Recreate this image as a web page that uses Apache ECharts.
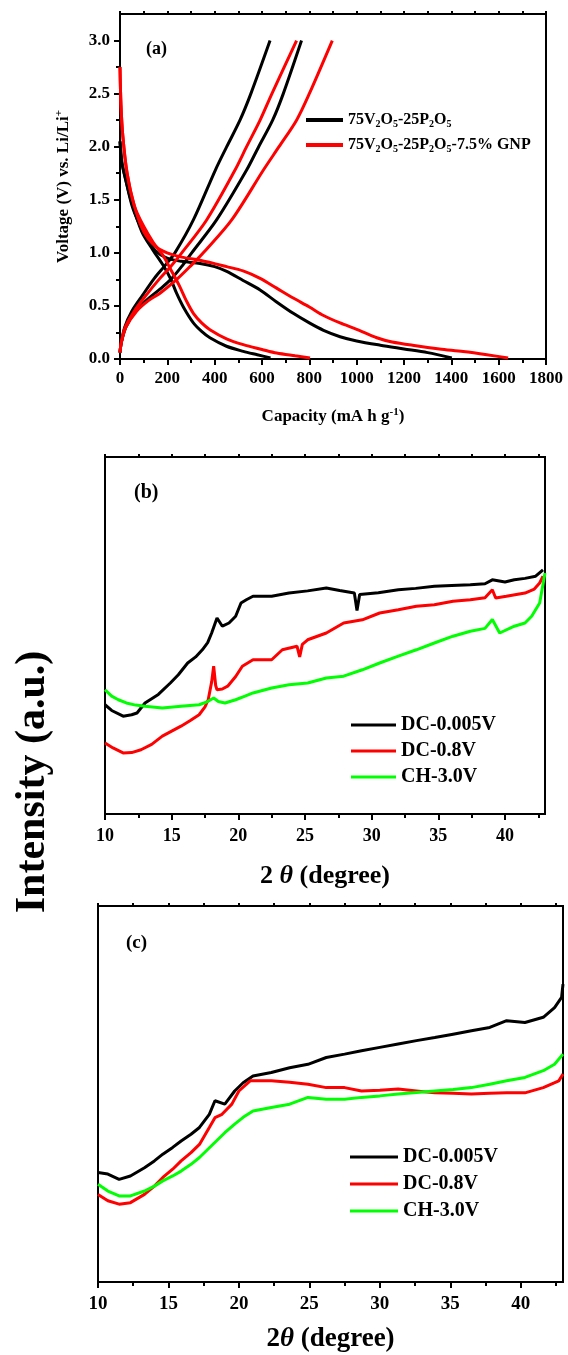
<!DOCTYPE html>
<html><head><meta charset="utf-8">
<script src="https://cdn.jsdelivr.net/npm/echarts@6/dist/echarts.min.js"></script>
<style>html,body{margin:0;padding:0;background:#fff}#c{width:568px;height:1355px}</style>
</head><body><div id="c"></div>
<script>
// ---------- tick values ----------
const capTicks = [0,200,400,600,800,1000,1200,1400,1600,1800];
const capMinorTicks = [100,300,500,700,900,1100,1300,1500,1700];
const capTopTicks = [0,100,200,300,400,500,600,700,800,900,1000,1100,1200,1300,1400,1500,1600,1700,1800];
const voltTicks = [0,0.5,1,1.5,2,2.5,3];
const voltMinorTicks = [0.25,0.75,1.25,1.75,2.25,2.75];
const thetaTicks = [10,15,20,25,30,35,40];
const thetaMinorTicks = [12.5,17.5,22.5,27.5,32.5,37.5,42.5];
const thetaTopTicks = [10,12.5,15,17.5,20,22.5,25,27.5,30,32.5,35,37.5,40,42.5];

// ---------- panel (a): [capacity, voltage] ----------
const nameA1 = '75V2O5-25P2O5';
const nameA2 = '75V2O5-25P2O5-7.5% GNP';
const aBlackDis1 = [[0,2.05],[8,1.85],[23,1.7],[50,1.45],[76,1.3],[110,1.15],[150,1.02],[199,0.95],[260,0.92],[338,0.9],[400,0.87],[451,0.825],[520,0.74],[592,0.65],[660,0.54],[732,0.43],[800,0.34],[860,0.27],[930,0.21],[1000,0.17],[1100,0.13],[1200,0.095],[1300,0.06],[1402,0.01]];
const aBlackDis2 = [[0,2.05],[8,1.85],[23,1.7],[46,1.5],[92,1.2],[138,1.03],[183,0.88],[215,0.75],[239,0.62],[270,0.48],[310,0.34],[345,0.26],[380,0.2],[450,0.12],[521,0.072],[580,0.04],[636,0.01]];
const aBlackCh1 = [[0,0.06],[5,0.15],[20,0.3],[50,0.45],[95,0.6],[145,0.76],[190,0.88],[232,1.0],[310,1.31],[403,1.78],[451,2.0],[507,2.25],[553,2.5],[634,3.0]];
const aBlackCh2 = [[0,0.06],[5,0.15],[25,0.3],[65,0.45],[120,0.57],[170,0.66],[215,0.75],[260,0.87],[303,1.0],[408,1.31],[535,1.78],[586,2.0],[645,2.25],[690,2.5],[767,3.0]];
const aRedDis1 = [[0,2.75],[4,2.4],[12,2.1],[30,1.75],[61,1.44],[100,1.2],[150,1.06],[199,1.0],[260,0.96],[338,0.93],[451,0.87],[520,0.83],[592,0.76],[660,0.67],[732,0.574],[800,0.49],[860,0.41],[930,0.34],[1000,0.28],[1085,0.2],[1150,0.16],[1250,0.125],[1350,0.095],[1450,0.07],[1550,0.04],[1640,0.01]];
const aRedDis2 = [[0,2.75],[4,2.4],[12,2.1],[30,1.75],[61,1.44],[100,1.25],[140,1.1],[183,0.97],[220,0.82],[253,0.68],[280,0.55],[310,0.43],[345,0.34],[380,0.276],[450,0.19],[521,0.135],[600,0.09],[662,0.056],[740,0.03],[803,0.01]];
const aRedCh1 = [[0,0.06],[5,0.15],[22,0.3],[60,0.45],[110,0.6],[165,0.75],[210,0.86],[261,1.0],[366,1.31],[486,1.78],[535,2.0],[592,2.25],[642,2.5],[746,3.0]];
const aRedCh2 = [[0,0.06],[5,0.15],[25,0.3],[70,0.45],[120,0.55],[169,0.62],[240,0.75],[300,0.88],[352,1.0],[472,1.31],[606,1.78],[672,2.0],[746,2.25],[800,2.5],[897,3.0]];

// ---------- panel (b): [2theta, intensity a.u.] ----------
const bBlack = [[10,30.6],[10.5,29],[11.36,27.4],[12,27.8],[12.4,28.3],[13,31.1],[14,33.5],[14.9,36.7],[15.5,39],[16.2,42.3],[16.8,44],[17.3,46],[17.7,48],[18.0,50.7],[18.4,54.9],[18.8,52.6],[19.3,53.5],[19.8,55.4],[20.2,59.1],[20.6,60],[21.1,61],[22.5,61],[23.8,61.9],[25.2,62.5],[26.6,63.3],[27.6,62.6],[28.7,61.9],[28.9,57],[29.1,61.5],[30.5,62],[32,62.8],[33.3,63.2],[34.7,63.8],[36,64],[37.4,64.2],[38.5,64.5],[39.05,65.6],[40,65],[40.7,65.6],[41.5,66],[42.3,66.6],[42.85,68.4]];
const bRed = [[10,19.9],[10.6,18.5],[11.36,17.1],[12,17.2],[12.7,18],[13.5,19.5],[14.3,21.8],[15,23.2],[15.7,24.6],[16.4,26.2],[17.06,27.8],[17.5,30],[17.74,32],[18.0,37],[18.15,41.4],[18.3,36],[18.4,34.8],[18.8,35],[19.2,35.8],[19.8,38.5],[20.3,41.4],[21.1,43.2],[22.5,43.2],[23.3,46],[24.4,47],[24.6,44],[24.8,47.5],[25.2,48.8],[26.6,50.7],[27.9,53.5],[29.3,54.4],[30.6,56.3],[32,57.2],[33.35,58.2],[34.7,58.6],[36.1,59.6],[37.4,60],[38.5,60.6],[39.05,62.8],[39.3,60.5],[40.1,61],[41.5,61.9],[42.2,63],[42.6,64.7],[42.85,66.6]];
const bGreen = [[10,34.8],[10.5,33],[11,32],[11.6,31.1],[12.3,30.5],[13,30.2],[14.3,29.7],[15.7,30.2],[17.06,30.6],[17.7,31.5],[18.15,32.5],[18.5,31.5],[19,31.1],[19.8,32],[20.5,33],[21.1,33.9],[22.5,35.3],[23.8,36.2],[25.2,36.7],[26.6,38.1],[27.9,38.6],[29.3,40.4],[30.6,42.3],[32,44.2],[33.35,46],[34.7,47.9],[36.1,49.8],[37.4,51.2],[38.5,52],[39.05,54.5],[39.6,50.7],[40.7,52.6],[41.5,53.5],[42,55.4],[42.6,59.1],[43,67.5]];

// ---------- panel (c): [2theta, intensity a.u.] ----------
const cBlack = [[10,29.1],[10.7,28.7],[11.5,27.3],[12.3,28.2],[13.3,30.4],[14,32.2],[14.6,34],[15.3,35.8],[15.9,37.5],[16.6,39.3],[17.2,41.1],[17.9,44.6],[18.3,48.2],[19,47.3],[19.7,50.8],[20.3,53],[21,54.8],[22.3,55.7],[23.6,57],[24.9,57.9],[26.2,59.7],[27.5,60.6],[28.7,61.5],[30,62.4],[31.3,63.3],[32.6,64.2],[33.9,65],[35.2,65.9],[36.5,66.8],[37.8,67.7],[39,69.5],[40.3,69],[41.6,70.4],[42.4,73],[42.9,75.7],[43,79.2]];
const cRed = [[10,23.3],[10.7,21.6],[11.5,20.7],[12.3,21.1],[13.3,23.3],[14,25.5],[14.6,27.8],[15.3,30],[15.9,32.2],[16.6,34.4],[17.2,36.6],[17.9,41.1],[18.3,43.7],[18.8,44.6],[19.5,47.3],[20,50.8],[20.8,53.5],[22.3,53.5],[23.6,53.1],[24.9,52.6],[26.2,51.7],[27.5,51.7],[28.7,50.8],[30,51],[31.3,51.3],[32.6,50.8],[33.9,50.3],[35.2,50.2],[36.5,50],[37.8,50.2],[39,50.3],[40.3,50.3],[41.6,51.7],[42.7,53.5],[43,55.3]];
const cGreen = [[10,26],[10.7,24.2],[11.5,22.9],[12.3,22.9],[13.3,24.2],[14,25.5],[14.6,26.9],[15.3,28.2],[15.9,29.5],[16.6,31.3],[17.2,33.1],[17.8,35.3],[18.4,37.5],[19,39.7],[19.7,42],[20.3,43.8],[21,45.5],[22.3,46.4],[23.6,47.3],[24.9,49.1],[26.2,48.6],[27.5,48.6],[28.7,49.1],[30,49.5],[31.3,50],[32.6,50.4],[33.9,50.8],[35.2,51.2],[36.5,51.7],[37.8,52.6],[39,53.5],[40.3,54.4],[41.6,56.2],[42.4,57.9],[43,60.6]];

const seriesNamesBC = ['DC-0.005V','DC-0.8V','CH-3.0V'];

// ---------- styling ----------
const FONT = '"Liberation Serif","Times New Roman",serif';
const BLACK = '#000000', RED = '#ff0000', GREEN = '#00ff00';

function richSet(size){
  return {
    b: {fontFamily: FONT, fontWeight: 'bold', fontSize: size, color: '#000', lineHeight: size + 4, verticalAlign: 'middle'},
    th: {fontFamily: FONT, fontWeight: 'bold', fontStyle: 'italic', fontSize: size, color: '#000', lineHeight: size + 4, verticalAlign: 'middle'},
    sub: {fontFamily: FONT, fontWeight: 'bold', fontSize: Math.round(size*0.62), color: '#000', lineHeight: Math.round(size*0.62), padding: [Math.round(size*0.5),0,0,0], verticalAlign: 'middle'},
    sup: {fontFamily: FONT, fontWeight: 'bold', fontSize: Math.round(size*0.62), color: '#000', lineHeight: Math.round(size*0.62), padding: [0,0,Math.round(size*0.5),0], verticalAlign: 'middle'}
  };
}

function mainX(grid, min, max, ticks, labelSize, margin, name, nameSize, nameGap, fmt){
  return {
    type: 'value', gridIndex: grid, position: 'bottom', min: min, max: max,
    axisLine: {show: true, lineStyle: {color: '#000', width: 2}},
    axisTick: {show: true, inside: false, length: 6, customValues: ticks, lineStyle: {color: '#000', width: 2}},
    axisLabel: {show: true, customValues: ticks, margin: margin, fontFamily: FONT, fontWeight: 'bold', fontSize: labelSize, color: '#000', formatter: fmt},
    splitLine: {show: false},
    name: name, nameLocation: 'middle', nameGap: nameGap,
    nameTextStyle: {rich: richSet(nameSize)}
  };
}
function minorX(grid, min, max, ticks, pos, len){
  return {
    type: 'value', gridIndex: grid, position: pos, min: min, max: max,
    axisLine: {show: false},
    axisTick: {show: true, inside: false, length: len, customValues: ticks, lineStyle: {color: '#000', width: 2}},
    axisLabel: {show: false}, splitLine: {show: false}
  };
}

const option = {
  animation: false,
  backgroundColor: '#ffffff',
  grid: [
    {left: 120, top: 14, width: 426, height: 345, show: true, borderColor: '#000', borderWidth: 2},
    {left: 105, top: 457, width: 440, height: 357, show: true, borderColor: '#000', borderWidth: 2},
    {left: 98, top: 906, width: 465, height: 376, show: true, borderColor: '#000', borderWidth: 2}
  ],
  xAxis: [
    mainX(0, 0, 1800, capTicks, 17, 11, '{b|Capacity (mA h g}{sup|-1}{b|)}', 17, 47, v => String(v)),
    minorX(0, 0, 1800, capMinorTicks, 'bottom', 4),
    minorX(0, 0, 1800, capTopTicks, 'top', 3),
    mainX(1, 10, 43, thetaTicks, 18, 13, '{b|2 }{th|θ}{b| (degree)}', 26, 47, v => String(v)),
    minorX(1, 10, 43, thetaMinorTicks, 'bottom', 4),
    minorX(1, 10, 43, thetaTopTicks, 'top', 3),
    mainX(2, 10, 43, thetaTicks, 19, 13, '{b|2}{th|θ}{b| (degree)}', 27, 42, v => String(v)),
    minorX(2, 10, 43, thetaMinorTicks, 'bottom', 4),
    minorX(2, 10, 43, thetaTopTicks, 'top', 3)
  ],
  yAxis: [
    {
      type: 'value', gridIndex: 0, position: 'left', min: 0, max: 3.25,
      axisLine: {show: true, lineStyle: {color: '#000', width: 2}},
      axisTick: {show: true, inside: false, length: 6, customValues: voltTicks, lineStyle: {color: '#000', width: 2}},
      axisLabel: {show: true, customValues: voltTicks, margin: 10, fontFamily: FONT, fontWeight: 'bold', fontSize: 17, color: '#000', formatter: v => v.toFixed(1)},
      splitLine: {show: false},
      name: '{b|Voltage (V) vs. Li/Li}{sup|+}', nameLocation: 'middle', nameGap: 46,
      nameTextStyle: {rich: richSet(17)}
    },
    {
      type: 'value', gridIndex: 0, position: 'left', min: 0, max: 3.25,
      axisLine: {show: false},
      axisTick: {show: true, inside: false, length: 4, customValues: voltMinorTicks, lineStyle: {color: '#000', width: 2}},
      axisLabel: {show: false}, splitLine: {show: false}
    },
    {type: 'value', gridIndex: 1, min: 0, max: 100, axisLine: {show: true, lineStyle: {color: '#000', width: 2}}, axisTick: {show: false}, axisLabel: {show: false}, splitLine: {show: false}},
    {type: 'value', gridIndex: 2, min: 0, max: 100, axisLine: {show: true, lineStyle: {color: '#000', width: 2}}, axisTick: {show: false}, axisLabel: {show: false}, splitLine: {show: false}}
  ],
  legend: [
    {
      data: [{name: nameA1, icon: 'rect'}, {name: nameA2, icon: 'rect'}],
      orient: 'vertical', left: 301, top: 106, itemWidth: 37, itemHeight: 4, itemGap: 7,
      selectedMode: false,
      formatter: function(n){
        const base = '{b|75V}{sub|2}{b|O}{sub|5}{b|-25P}{sub|2}{b|O}{sub|5}';
        return n === nameA1 ? base : base + '{b|-7.5% GNP}';
      },
      textStyle: {rich: richSet(16)}
    },
    {
      data: seriesNamesBC.map(n => ({name: n, icon: 'rect'})),
      orient: 'vertical', left: 346, top: 710, itemWidth: 45, itemHeight: 3, itemGap: 6,
      selectedMode: false,
      textStyle: {fontFamily: FONT, fontWeight: 'bold', fontSize: 20, color: '#000', lineHeight: 20}
    },
    {
      data: seriesNamesBC.map(n => ({name: n, icon: 'rect'})),
      orient: 'vertical', left: 345, top: 1142, itemWidth: 48, itemHeight: 3, itemGap: 7,
      selectedMode: false,
      textStyle: {fontFamily: FONT, fontWeight: 'bold', fontSize: 20, color: '#000', lineHeight: 20}
    }
  ],
  graphic: [
    {type: 'text', x: 146, y: 49, style: {text: '(a)', font: 'bold 18px "Liberation Serif"', fill: '#000', textAlign: 'left', textVerticalAlign: 'middle'}},
    {type: 'text', x: 134, y: 493, style: {text: '(b)', font: 'bold 20px "Liberation Serif"', fill: '#000', textAlign: 'left', textVerticalAlign: 'middle'}},
    {type: 'text', x: 126, y: 943, style: {text: '(c)', font: 'bold 19px "Liberation Serif"', fill: '#000', textAlign: 'left', textVerticalAlign: 'middle'}},
    {type: 'text', x: 33, y: 782, rotation: Math.PI / 2, style: {text: 'Intensity (a.u.)', font: 'bold 42px "Liberation Serif"', fill: '#000', textAlign: 'center', textVerticalAlign: 'middle'}}
  ],
  series: []
};

function line(name, data, color, xi, yi, width, smooth){
  return {
    type: 'line', name: name, data: data, xAxisIndex: xi, yAxisIndex: yi,
    showSymbol: false, symbol: 'none', smooth: smooth, silent: true,
    itemStyle: {color: color},
    lineStyle: {color: color, width: width}
  };
}

option.series.push(
  line(nameA1, aBlackDis1, BLACK, 0, 0, 3, 0.3),
  line(nameA1, aBlackDis2, BLACK, 0, 0, 3, 0.3),
  line(nameA1, aBlackCh1, BLACK, 0, 0, 3, 0.3),
  line(nameA1, aBlackCh2, BLACK, 0, 0, 3, 0.3),
  line(nameA2, aRedDis1, RED, 0, 0, 3, 0.3),
  line(nameA2, aRedDis2, RED, 0, 0, 3, 0.3),
  line(nameA2, aRedCh1, RED, 0, 0, 3, 0.3),
  line(nameA2, aRedCh2, RED, 0, 0, 3, 0.3),
  line(seriesNamesBC[0], bBlack, BLACK, 3, 2, 3, false),
  line(seriesNamesBC[1], bRed, RED, 3, 2, 3, false),
  line(seriesNamesBC[2], bGreen, GREEN, 3, 2, 3, false),
  line(seriesNamesBC[0], cBlack, BLACK, 6, 3, 3, false),
  line(seriesNamesBC[1], cRed, RED, 6, 3, 3, false),
  line(seriesNamesBC[2], cGreen, GREEN, 6, 3, 3, false)
);

const chart = echarts.init(document.getElementById('c'), null, {renderer: 'canvas'});
chart.setOption(option);
</script>
</body></html>
